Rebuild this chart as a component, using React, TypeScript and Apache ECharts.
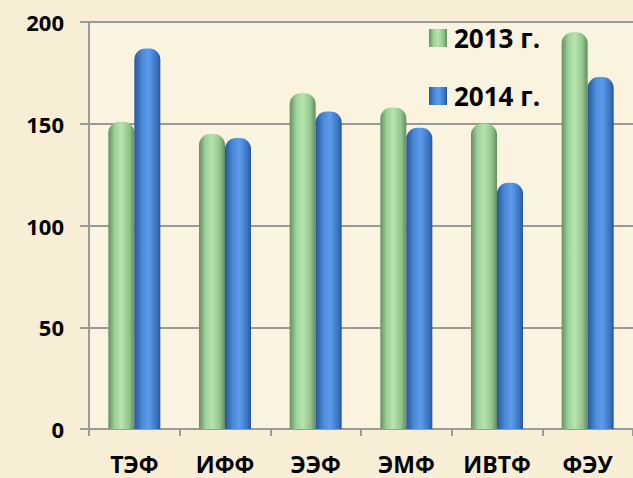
import React, { useEffect, useRef } from "react";
import * as echarts from "echarts";

const categories = ["ТЭФ", "ИФФ", "ЭЭФ", "ЭМФ", "ИВТФ", "ФЭУ"];
const values2013 = [151, 145, 165, 158, 150, 195];
const values2014 = [187, 143, 156, 148, 121, 173];
const seriesNames = ["2013 г.", "2014 г."];
const yTicks = { min: 0, max: 200, interval: 50 };

const greenGrad = new echarts.graphic.LinearGradient(0, 0, 1, 0, [
  { offset: 0, color: "#668e64" },
  { offset: 0.25, color: "#9fd098" },
  { offset: 0.5, color: "#b6e4ae" },
  { offset: 0.8, color: "#93c48b" },
  { offset: 1, color: "#638c61" },
]);
const blueGrad = new echarts.graphic.LinearGradient(0, 0, 1, 0, [
  { offset: 0, color: "#28579c" },
  { offset: 0.3, color: "#4a8ad8" },
  { offset: 0.55, color: "#5c9bec" },
  { offset: 0.85, color: "#3b76c4" },
  { offset: 1, color: "#285694" },
]);

export default function App() {
  const ref = useRef<HTMLDivElement>(null);
  useEffect(() => {
    document.body.style.margin = "0";
    const chart = echarts.init(ref.current!, null, { renderer: "svg" });
    const labelFont = {
      fontFamily: "Open Sans",
      fontWeight: "bold" as const,
      fontSize: 22,
      color: "#000",
    };
    chart.setOption({
      animation: false,
      backgroundColor: "#f7eed5",
      grid: {
        left: 89,
        top: 22,
        width: 548,
        bottom: 49,
        show: true,
        backgroundColor: "#faf3df",
        borderWidth: 0,
      },
      legend: {
        orient: "vertical",
        left: 429,
        top: 25,
        padding: 0,
        itemWidth: 18,
        itemHeight: 18,
        itemGap: 32,
        icon: "path://M0 0H10V10H0Z",
        textStyle: { ...labelFont, fontSize: 26, padding: [0, 0, 0, 2] },
        data: seriesNames,
      },
      xAxis: {
        type: "category",
        data: categories,
        boundaryGap: true,
        axisLine: { lineStyle: { color: "#9a9a9a", width: 2 } },
        axisTick: { show: true, length: 7, lineStyle: { color: "#9a9a9a", width: 2 } },
        axisLabel: { ...labelFont, fontSize: 23, margin: 23 },
      },
      yAxis: {
        type: "value",
        min: yTicks.min,
        max: yTicks.max,
        interval: yTicks.interval,
        axisLine: { show: true, lineStyle: { color: "#9a9a9a", width: 2 } },
        axisTick: { show: true, length: 9, lineStyle: { color: "#9a9a9a", width: 2 } },
        splitLine: { lineStyle: { color: "#9a9a9a", width: 2 } },
        axisLabel: { ...labelFont, margin: 25 },
      },
      series: [
        {
          name: seriesNames[0],
          type: "bar",
          data: values2013,
          barWidth: 26,
          barGap: "0%",
          itemStyle: { color: greenGrad, borderRadius: [11, 11, 0, 0] },
        },
        {
          name: seriesNames[1],
          type: "bar",
          data: values2014,
          barWidth: 26,
          itemStyle: { color: blueGrad, borderRadius: [11, 11, 0, 0] },
        },
      ],
    });
    return () => chart.dispose();
  }, []);
  return <div ref={ref} style={{ width: 633, height: 478 }} />;
}
